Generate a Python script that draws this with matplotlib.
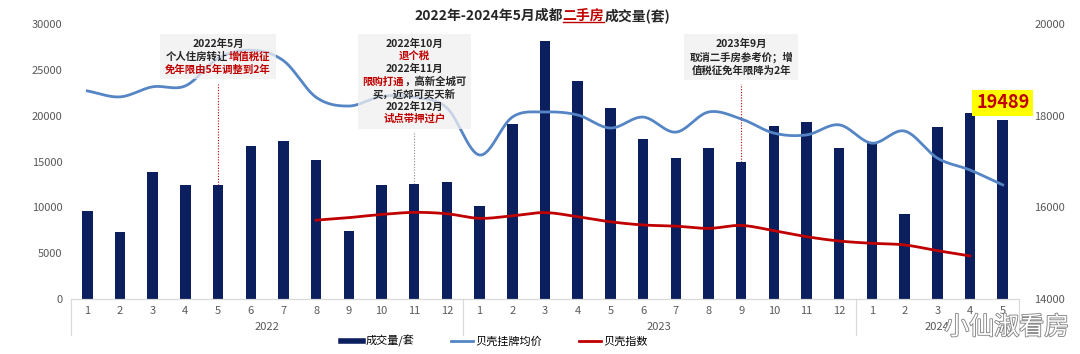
import numpy as np
import matplotlib.pyplot as plt
import matplotlib.patheffects as pe
import matplotlib.transforms as mtransforms
from matplotlib.lines import Line2D
from matplotlib.offsetbox import TextArea, HPacker, VPacker, AnnotationBbox

plt.rcParams['font.family'] = ['Noto Sans CJK SC', 'DejaVu Sans']

# ---- data ----
months = [str(m) for m in range(1, 13)] * 2 + [str(m) for m in range(1, 6)]
years = ["2022", "2023", "2024"]
year_len = [12, 12, 5]

# 成交量/套 (left axis)
volume = [9600, 7300, 13850, 12400, 12400, 16700, 17250, 15150, 7400, 12400, 12550, 12750,
          10150, 19100, 28150, 23800, 20800, 17450, 15400, 16500, 15000, 18900, 19300, 16500,
          17000, 9300, 18750, 20300, 19489]
# 贝壳挂牌均价 (right axis)
listing_price = [18540, 18410, 18630, 18650, 19250, 19430, 19200, 18400, 18210, 18420, 18400, 18170,
                 17140, 17970, 18080, 18015, 17730, 17970, 17640, 18080, 17930, 17620, 17580, 17800,
                 17400, 17665, 17075, 16815, 16490]
# 贝壳指数 (right axis), starts 2022-8, ends 2024-4
index_start = 7
beike_index = [15720, 15775, 15845, 15890, 15860, 15760, 15815, 15885, 15795, 15685, 15615, 15590,
               15540, 15605, 15490, 15360, 15265, 15215, 15180, 15055, 14940]

NAVY = "#0b1f5e"
BLUE = "#5585c5"
RED = "#c00000"
DARK = "#262626"
GRAY = "#595959"


def smooth(xs, ys, n=12):
    # Catmull-Rom curve through the points, like Excel's smoothed line
    xs = np.asarray(xs, float)
    ys = np.asarray(ys, float)
    px = np.concatenate([[2 * xs[0] - xs[1]], xs, [2 * xs[-1] - xs[-2]]])
    py = np.concatenate([[2 * ys[0] - ys[1]], ys, [2 * ys[-1] - ys[-2]]])
    t = np.linspace(0, 1, n, endpoint=False)
    ox, oy = [], []
    for i in range(1, len(px) - 2):
        for p, out in ((px, ox), (py, oy)):
            p0, p1, p2, p3 = p[i - 1:i + 3]
            out.extend(0.5 * (2 * p1 + (-p0 + p2) * t + (2 * p0 - 5 * p1 + 4 * p2 - p3) * t ** 2
                              + (-p0 + 3 * p1 - 3 * p2 + p3) * t ** 3))
    ox.append(xs[-1])
    oy.append(ys[-1])
    return ox, oy


fig = plt.figure(figsize=(10.8, 3.54), dpi=100)
ax = fig.add_axes([71 / 1080, 55 / 354, 948 / 1080, 275 / 354])
ax2 = ax.twinx()

x = np.arange(len(volume))
ax.bar(x, volume, width=0.32, color=NAVY, zorder=2)
ax.set_ylim(0, 30000)
ax.set_yticks(range(0, 30001, 5000))
ax.set_xlim(-0.5, len(volume) - 0.5)
ax.set_xticks(x)
ax.set_xticklabels(months)
ax.tick_params(axis='x', length=0, pad=5, labelsize=8, labelcolor=GRAY)
ax.tick_params(axis='y', length=0, pad=6, labelsize=8, labelcolor=GRAY)

sx, sy = smooth(x, listing_price)
ax2.plot(sx, sy, color=BLUE, lw=2, zorder=3)
xi = np.arange(index_start, index_start + len(beike_index))
sx, sy = smooth(xi, beike_index)
ax2.plot(sx, sy, color=RED, lw=2, zorder=3)
ax2.set_ylim(14000, 20000)
ax2.set_yticks(range(14000, 20001, 2000))
ax2.tick_params(axis='y', length=0, pad=11, labelsize=8, labelcolor=GRAY)

for a in (ax, ax2):
    for s in ("top", "left", "right"):
        a.spines[s].set_visible(False)
    a.spines["bottom"].set_color("#d9d9d9")

# year groups under the month labels
trans = mtransforms.blended_transform_factory(ax.transData, ax.transAxes)
start = 0
for yr, n in zip(years, year_len):
    ax.text(start + (n - 1) / 2, -0.1, yr, transform=trans, ha='center', va='center',
            fontsize=8, color=GRAY)
    ax.plot([start - 0.5, start - 0.5], [0, -0.13], transform=trans, color="#d9d9d9",
            lw=0.8, clip_on=False)
    start += n
ax.plot([start - 0.5, start - 0.5], [0, -0.13], transform=trans, color="#d9d9d9",
        lw=0.8, clip_on=False)


# policy notes
def note(xc, lines, fs=7.5):
    rows = []
    for segs in lines:
        rows.append(HPacker(children=[TextArea(s, textprops=dict(color=c, fontsize=fs,
                                                                  fontweight='bold'))
                                      for s, c in segs], align='baseline', pad=0, sep=0))
    box = VPacker(children=rows, align='center', pad=0, sep=1.6)
    ab = AnnotationBbox(box, (xc, 0.945), xycoords=trans, box_alignment=(0.5, 1),
                        frameon=True, pad=0.35,
                        bboxprops=dict(facecolor="#f0f0f0", edgecolor="none", alpha=0.75))
    ab.set_zorder(5)
    ax2.add_artist(ab)


note(4, [[("2022年5月", DARK)],
         [("个人住房转让", DARK), ("增值税征", RED)],
         [("免年限由5年调整到2年", RED)]])
note(10, [[("2022年10月", DARK)],
          [("退个税", RED)],
          [("2022年11月", DARK)],
          [("限购打通", RED), ("，高新全城可", DARK)],
          [("买，近郊可买天新", DARK)],
          [("2022年12月", DARK)],
          [("试点带押过户", RED)]])
note(20, [[("2023年9月", DARK)],
          [("取消二手房参考价；增", DARK)],
          [("值税征免年限降为2年", DARK)]])

ax.plot([4, 4], [volume[4], 23500], color=RED, lw=0.8, ls=(0, (1, 1.5)), zorder=1)
ax.plot([10, 10], [volume[10], 18300], color="#8c8c8c", lw=0.8, ls=(0, (1, 1.5)), zorder=1)
ax.plot([20, 20], [volume[20], 23500], color=RED, lw=0.8, ls=(0, (1, 1.5)), zorder=1)

# latest value label
ax2.annotate(f"{volume[-1]}", xy=(x[-1], 0.713), xycoords=trans, ha='center', va='center',
             fontsize=13, fontweight='bold', color=RED, zorder=6,
             bbox=dict(boxstyle="square,pad=0.2", facecolor="#ffff00", edgecolor="none"))

# title with red underlined part
t_parts = [TextArea("2022年-2024年5月成都", textprops=dict(color=DARK, fontsize=10, fontweight='bold')),
           TextArea("二手房", textprops=dict(color=RED, fontsize=10, fontweight='bold')),
           TextArea("成交量(套)", textprops=dict(color=DARK, fontsize=10, fontweight='bold'))]
title = AnnotationBbox(HPacker(children=t_parts, align='baseline', pad=0, sep=0),
                       (0.502, 0.957), xycoords='figure fraction', frameon=False,
                       box_alignment=(0.5, 0.5))
fig.add_artist(title)

# legend
handles = [Line2D([], [], color=NAVY, lw=4),
           Line2D([], [], color=BLUE, lw=2),
           Line2D([], [], color=RED, lw=2)]
fig.legend(handles, ["成交量/套", "贝壳挂牌均价", "贝壳指数"], loc='center',
           bbox_to_anchor=(0.458, 0.037), ncol=3, frameon=False, fontsize=8,
           handlelength=2, handletextpad=0.2, columnspacing=3.3)

# watermark
fig.text(0.99, 0.075, "小仙淑看房", ha='right', va='center', fontsize=18, color='white',
         path_effects=[pe.withStroke(linewidth=1.2, foreground='#7f7f7f')])

fig.canvas.draw()
bb = t_parts[1]._text.get_window_extent(fig.canvas.get_renderer())
fig.add_artist(Line2D([bb.x0, bb.x1], [bb.y0 + 1, bb.y0 + 1], color=RED, lw=1,
                      transform=mtransforms.IdentityTransform()))

fig.savefig("out.png", dpi=100)
